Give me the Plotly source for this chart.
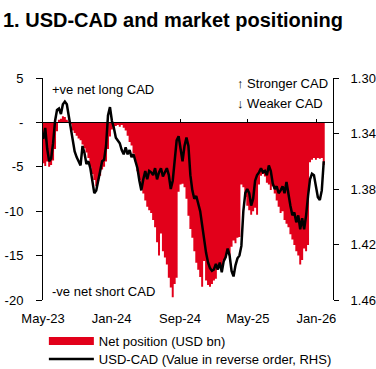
import pandas as pd
import plotly.graph_objects as go

# Weekly observations (CFTC-style Tuesday dates)
dates = pd.date_range("2023-05-02", periods=144, freq="7D")

# Net CAD position, USD bn (left axis)
net_position = [
    -4.6, -4.9, -4.4, -5.0, -4.8, -4.3, -3.0, -1.0, 0.3, 0.4,
    0.7, 0.6, 0.3, 0.1, -0.2, -0.9, -1.2, -1.5, -1.8, -2.0,
    -2.5, -2.9, -3.4, -4.0, -5.0, -5.8, -6.5, -7.2, -6.6, -6.0,
    -5.3, -5.0, -4.4, -3.0, -1.6, -0.8, -0.5, -0.4, -0.3, -0.5,
    -0.3, -0.6, -0.9, -1.5, -2.2, -2.6, -3.5, -4.4, -5.5, -6.5,
    -7.4, -8.0, -8.8, -9.5, -9.9, -10.2, -11.0, -11.8, -13.5, -15.0,
    -12.5, -14.5, -15.2, -16.0, -17.5, -18.6, -19.7, -18.2, -17.5, -7.8,
    -7.0, -6.9, -7.3, -8.6, -10.5, -12.0, -13.0, -14.5, -15.8, -16.6,
    -17.4, -18.5, -15.6, -17.8, -18.3, -18.5, -18.2, -17.8, -17.6, -16.6,
    -16.2, -16.4, -15.5, -15.2, -14.4, -15.0, -14.0, -13.3, -13.6, -13.0,
    -12.9, -7.0, -7.3, -8.4, -9.4, -9.9, -10.4, -10.0, -9.6, -10.4,
    -7.0, -6.0, -5.8, -6.1, -6.8, -7.0, -7.6, -7.2, -8.0, -8.8,
    -9.5, -10.2, -10.0, -11.0, -11.4, -11.8, -12.6, -13.2, -13.8, -14.5,
    -15.0, -16.0, -15.5, -14.2, -14.5, -13.8, -4.5, -4.2, -4.0, -4.2,
    -4.0, -4.1, -4.0, -4.8,
]

# USD-CAD spot (right axis, reversed)
usdcad = [
    1.344, 1.336, 1.351, 1.360, 1.358, 1.347, 1.331, 1.323, 1.322, 1.326,
    1.319, 1.317, 1.319, 1.328, 1.336, 1.347, 1.353, 1.357, 1.360, 1.363,
    1.349, 1.354, 1.362, 1.360, 1.365, 1.373, 1.383, 1.381, 1.373, 1.367,
    1.360, 1.359, 1.349, 1.327, 1.321, 1.331, 1.336, 1.343, 1.345, 1.347,
    1.352, 1.355, 1.350, 1.355, 1.352, 1.357, 1.355, 1.360, 1.365, 1.374,
    1.381, 1.373, 1.367, 1.373, 1.367, 1.368, 1.370, 1.365, 1.373, 1.368,
    1.365, 1.371, 1.368, 1.365, 1.370, 1.380, 1.374, 1.360, 1.345, 1.342,
    1.352, 1.360, 1.349, 1.343, 1.349, 1.370, 1.381, 1.387, 1.385, 1.391,
    1.396, 1.406, 1.417, 1.426, 1.433, 1.437, 1.439, 1.438, 1.434, 1.438,
    1.433, 1.440, 1.432, 1.429, 1.423, 1.428, 1.439, 1.443, 1.435, 1.430,
    1.428, 1.421, 1.396, 1.383, 1.380, 1.383, 1.392, 1.387, 1.374, 1.370,
    1.368, 1.365, 1.368, 1.367, 1.370, 1.363, 1.367, 1.376, 1.380, 1.378,
    1.383, 1.381, 1.378, 1.383, 1.375, 1.385, 1.392, 1.399, 1.397, 1.404,
    1.399, 1.409, 1.401, 1.409, 1.399, 1.385, 1.373, 1.369, 1.370, 1.378,
    1.386, 1.388, 1.381, 1.360,
]

left_tickvals = [5, 0, -5, -10, -15, -20]
left_ticktext = ["5", "-", "-5", "-10", "-15", "-20"]
right_tickvals = [1.30, 1.34, 1.38, 1.42, 1.46]
x_range = ["2023-05-01", "2026-03-01"]

RED = "#E2001A"
FONT = "Arial, 'Liberation Sans', sans-serif"

# Weekly columns drawn as a step-filled area (no seams between adjacent weeks)
half_week = pd.Timedelta(days=3.5)
bar_edges = list(dates - half_week) + [dates[-1] + half_week]
bar_heights = net_position + [net_position[-1]]

fig = go.Figure()
fig.add_trace(go.Scatter(
    x=bar_edges, y=bar_heights, mode="lines", line=dict(width=0, shape="hv"),
    fill="tozeroy", fillcolor=RED, showlegend=False, xaxis="x", yaxis="y",
    name="Net position (USD bn)", hoverinfo="skip",
))
fig.add_trace(go.Scatter(
    x=dates, y=usdcad, mode="lines", line=dict(color="black", width=2.5),
    xaxis="x2", yaxis="y2", name="USD-CAD (Value in reverse order, RHS)",
    legend="legend2",
))
fig.add_trace(go.Scatter(
    x=[None], y=[None], mode="lines", line=dict(color=RED, width=8),
    name="Net position (USD bn)", xaxis="x", yaxis="y", legend="legend",
))

common_x = dict(range=x_range, type="date", tick0="2023-05-01", dtick="M8",
                tickformat="%b-%y", showgrid=False, zeroline=False)
legend_common = dict(xanchor="left", yanchor="top", bgcolor="rgba(0,0,0,0)",
                     font=dict(size=13), itemwidth=45)

fig.update_layout(
    width=376, height=369,
    margin=dict(l=43, r=43, t=78, b=69, autoexpand=False),
    paper_bgcolor="white", plot_bgcolor="white",
    font=dict(family=FONT, size=13, color="black"),
    title=dict(text="<b>1. USD-CAD and market positioning</b>",
               xref="container", yref="container", x=0.008, xanchor="left",
               y=1 - 13 / 369, yanchor="top", font=dict(size=20, color="black")),
    xaxis=dict(**common_x, showline=False, ticks="", ticklabelstandoff=9),
    xaxis2=dict(**common_x, overlaying="x", anchor="free", position=0.8,
                showticklabels=False, showline=True, linecolor="black",
                linewidth=1, ticks="inside", ticklen=3, tickcolor="black"),
    yaxis=dict(range=[-20, 5], tickvals=left_tickvals, ticktext=left_ticktext,
               showline=True, linecolor="black", linewidth=1, ticks="outside",
               ticklen=6, tickcolor="black", showgrid=False, zeroline=False,
               ticklabelstandoff=10),
    yaxis2=dict(overlaying="y", side="right", anchor="x2", range=[1.46, 1.30],
                tickvals=right_tickvals, tickformat=".2f", showline=True,
                linecolor="black", linewidth=1, ticks="outside", ticklen=5,
                tickcolor="black", showgrid=False, zeroline=False,
                ticklabelstandoff=9),
    legend=dict(**legend_common, x=0.003, y=-0.117),
    legend2=dict(**legend_common, x=0.003, y=-0.198),
    annotations=[
        dict(text="+ve net long CAD", xref="paper", yref="paper", x=0.024,
             y=0.948, xanchor="left", yanchor="middle", showarrow=False),
        dict(text="-ve net short CAD", xref="paper", yref="paper", x=0.024,
             y=0.0405, xanchor="left", yanchor="middle", showarrow=False),
        dict(text="↑ Stronger CAD", xref="paper", yref="paper", x=0.662,
             y=0.973, xanchor="left", yanchor="middle", showarrow=False),
        dict(text="↓ Weaker CAD", xref="paper", yref="paper", x=0.662,
             y=0.885, xanchor="left", yanchor="middle", showarrow=False),
    ],
)

fig.write_html(
    "out.html",
    config={"displayModeBar": False},
    post_script="document.body.style.margin='0';document.body.style.padding='0';",
)
